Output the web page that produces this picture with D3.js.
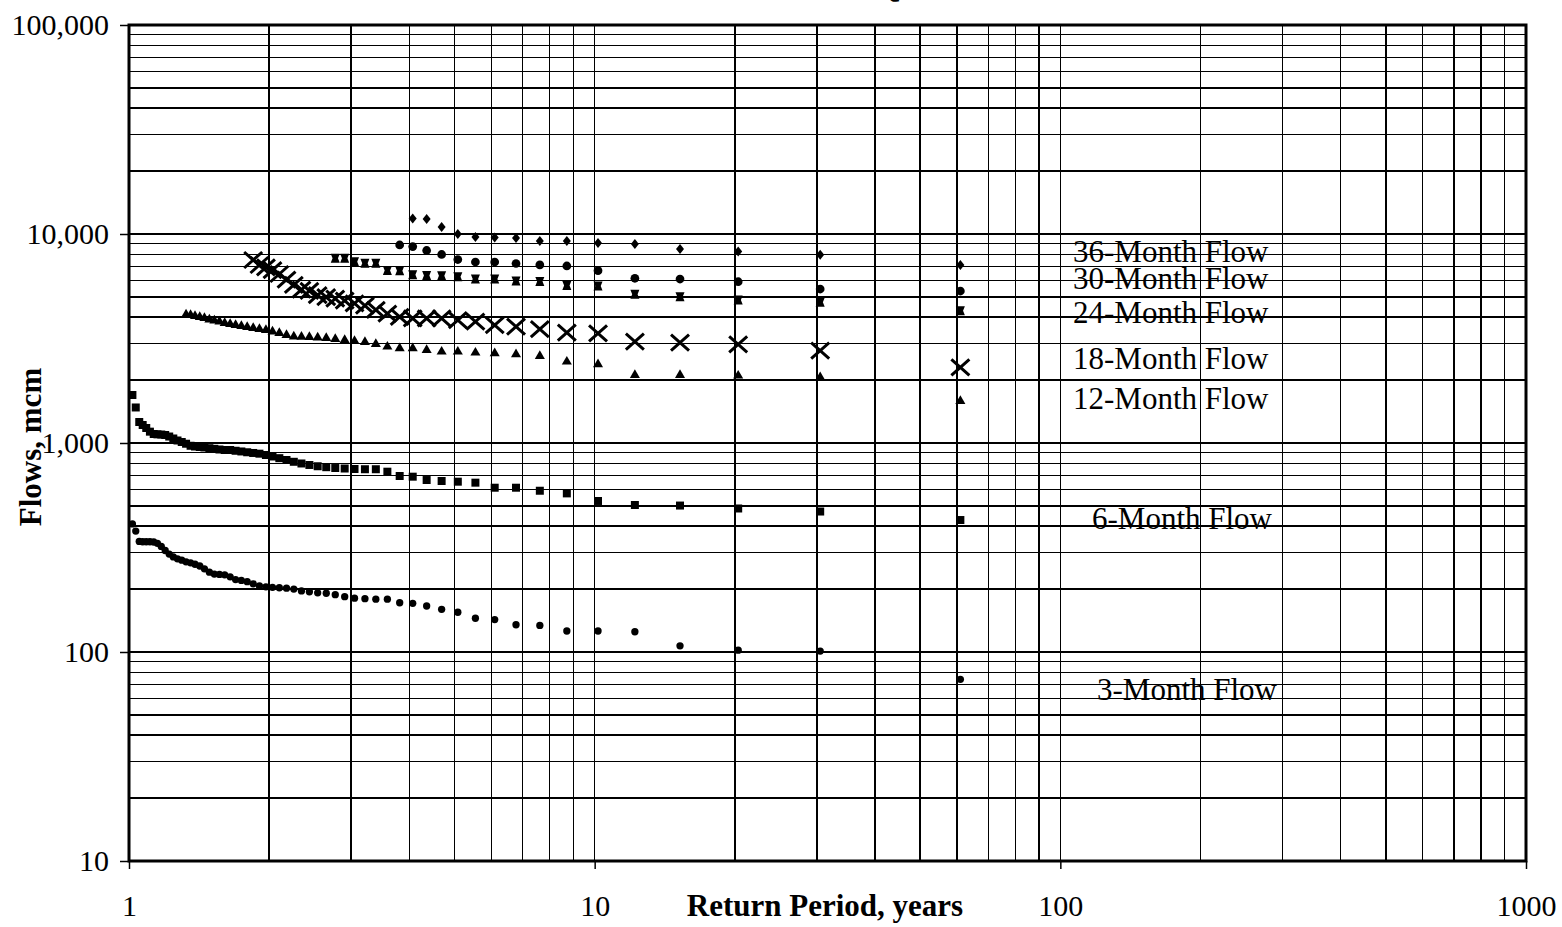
<!DOCTYPE html>
<html>
<head>
<meta charset="utf-8">
<script src="https://cdn.jsdelivr.net/npm/d3@7"></script>
<style>
  body { margin: 0; background: #fff; }
  svg { display: block; }
  text { font-family: "Liberation Serif", "Times New Roman", serif; fill: #000; }
</style>
</head>
<body>
<svg id="chart" width="1562" height="927"></svg>
<script>
// ---------- DATA ----------
// Return periods (years), ascending; each series uses the last N of these
const returnPeriods = [1.017, 1.034, 1.052, 1.070, 1.089, 1.109, 1.130, 1.151, 1.173, 1.196,
  1.220, 1.245, 1.271, 1.298, 1.326, 1.356, 1.386, 1.419, 1.452, 1.488,
  1.525, 1.564, 1.605, 1.649, 1.694, 1.743, 1.794, 1.848, 1.906, 1.968,
  2.033, 2.103, 2.179, 2.259, 2.346, 2.440, 2.542, 2.652, 2.773, 2.905,
  3.050, 3.211, 3.389, 3.588, 3.813, 4.067, 4.357, 4.692, 5.083, 5.545,
  6.100, 6.778, 7.625, 8.714, 10.167, 12.200, 15.250, 20.333, 30.500, 61.000];

const flow3 = [410, 379, 338, 337, 337, 337, 336, 331, 320, 306,
  294, 285, 279, 275, 270, 267, 263, 258, 250, 241,
  236, 235, 234, 229, 222, 220, 217, 212, 207, 205,
  204, 203, 202, 200, 196, 194, 192, 191, 188, 184,
  181, 180, 179, 179, 172, 171, 166, 160, 155, 145,
  143, 135, 134, 126, 126, 125, 107, 102, 101, 74];

const flow6 = [1697, 1479, 1260, 1219, 1180, 1133, 1104, 1100, 1098, 1092,
  1074, 1051, 1028, 1011, 992, 970, 962, 957, 952, 944,
  938, 931, 926, 926, 918, 911, 903, 896, 889, 876,
  862, 846, 829, 813, 798, 785, 774, 766, 759, 755,
  751, 749, 749, 729, 695, 690, 665, 658, 653, 646,
  611, 611, 591, 574, 528, 505, 502, 486, 470, 428];

const flow12 = [4118, 4096, 4052, 4008, 3964, 3899, 3856, 3813, 3751, 3710,
  3669, 3629, 3589, 3550, 3510, 3472, 3415, 3359, 3286, 3232,
  3225, 3214, 3196, 3179, 3144, 3110, 3076, 3042, 2976, 2889,
  2838, 2838, 2786, 2734, 2734, 2704, 2686, 2657, 2607, 2449,
  2379, 2115, 2115, 2099, 2062, 1589];

const flow18 = [7509, 7107, 6929, 6725, 6436, 6057, 5702, 5425, 5337, 5105,
  4995, 4913, 4796, 4661, 4548, 4330, 4164, 4008, 3951, 3951,
  3950, 3877, 3805, 3669, 3601, 3510, 3370, 3348, 3053, 3020,
  2967, 2764, 2303];

const flow24 = [7650, 7650, 7370, 7240, 7240, 6680, 6670, 6385, 6330, 6320,
  6245, 6090, 6090, 5960, 5925, 5670, 5640, 5145, 5010, 4830,
  4710, 4295];

const flow30 = [8860, 8710, 8340, 7980, 7550, 7345, 7345, 7225, 7110, 7030,
  6675, 6140, 6090, 5910, 5455, 5335];

const flow36 = [11850, 11800, 10800, 10000, 9680, 9620, 9570, 9260, 9260, 9050,
  8960, 8480, 8250, 7950, 7100];

const seriesNames = ["3-Month Flow", "6-Month Flow", "12-Month Flow", "18-Month Flow",
  "24-Month Flow", "30-Month Flow", "36-Month Flow"];
const seriesValues = [flow3, flow6, flow12, flow18, flow24, flow30, flow36];

const xTickValues = [1, 10, 100, 1000];
const yTickValues = [10, 100, 1000, 10000, 100000];
const xAxisTitle = "Return Period, years";
const yAxisTitle = "Flows, mcm";
const chartTitleFragment = "Q";

// ---------- LAYOUT / STYLE ----------
const plot = { left: 129, right: 1526, top: 25, bottom: 861 };
const markerKinds = ["circleSmall", "square", "triangle", "cross", "bowtie", "circle", "diamond"];
const labelPos = [
  { x: 1097, y: 700 }, { x: 1092, y: 529 }, { x: 1073, y: 409 }, { x: 1073, y: 369 },
  { x: 1073, y: 323 }, { x: 1073, y: 289 }, { x: 1073, y: 262 }
];

const svg = d3.select("#chart");
const x = d3.scaleLog().domain([1, 1000]).range([plot.left, plot.right]);
const y = d3.scaleLog().domain([10, 100000]).range([plot.bottom, plot.top]);

// Grid
const grid = svg.append("g").attr("stroke", "#000").attr("stroke-width", 1.4).attr("shape-rendering", "crispEdges");
grid.selectAll("line.v").data(x.ticks()).join("line")
  .attr("x1", d => x(d)).attr("x2", d => x(d))
  .attr("y1", plot.top).attr("y2", plot.bottom);
grid.selectAll("line.h").data(y.ticks()).join("line")
  .attr("x1", plot.left).attr("x2", plot.right)
  .attr("y1", d => y(d)).attr("y2", d => y(d));

// Plot border
svg.append("rect")
  .attr("x", plot.left).attr("y", plot.top)
  .attr("width", plot.right - plot.left).attr("height", plot.bottom - plot.top)
  .attr("fill", "none").attr("stroke", "#000").attr("stroke-width", 3);

// Axes
const yAxis = d3.axisLeft(y).tickValues(yTickValues).tickFormat(d3.format(",")).tickSize(9).tickSizeOuter(0);
const gy = svg.append("g").attr("transform", `translate(${plot.left},0)`).call(yAxis);
gy.select(".domain").remove();
gy.selectAll(".tick line").attr("stroke", "#000").attr("stroke-width", 1.5);
gy.selectAll(".tick text").attr("x", -20).attr("dy", null).attr("y", 9)
  .style("font-size", "30px").attr("font-family", null).attr("fill", "#000");

const xAxis = d3.axisBottom(x).tickValues(xTickValues).tickFormat(d3.format("d")).tickSize(8).tickSizeOuter(0);
const gx = svg.append("g").attr("transform", `translate(0,${plot.bottom})`).call(xAxis);
gx.select(".domain").remove();
gx.selectAll(".tick line").attr("stroke", "#000").attr("stroke-width", 1.5);
gx.selectAll(".tick text").attr("dy", null).attr("y", 55)
  .style("font-size", "30px").attr("font-family", null).attr("fill", "#000");

// Axis titles
svg.append("text").attr("x", 825).attr("y", 916).attr("text-anchor", "middle")
  .style("font-size", "31px").style("font-weight", "bold").text(xAxisTitle);
svg.append("text").attr("transform", "translate(41,447) rotate(-90)").attr("text-anchor", "middle")
  .style("font-size", "31px").style("font-weight", "bold").text(yAxisTitle);

// Title fragment, cut off at the top edge as in the reference
svg.append("text").attr("x", 888).attr("y", -3).attr("text-anchor", "middle")
  .style("font-size", "32px").style("font-weight", "bold").text(chartTitleFragment);

// Marker shapes
const markerPath = {
  circleSmall: d3.symbol(d3.symbolCircle, 42)(),
  square: d3.symbol(d3.symbolSquare, 64)(),
  triangle: d3.symbol(d3.symbolTriangle, 44)(),
  circle: d3.symbol(d3.symbolCircle, 60)(),
  diamond: "M0,-5L4,0L0,5L-4,0Z",
  bowtie: "M-4.5,-4.5H4.5L2.7,0L4.5,4.5H-4.5L-2.7,0Z",
  cross: "M-9,-8L9,8M-9,8L9,-8"
};

const marks = svg.append("g");
seriesValues.forEach((vals, i) => {
  const xs = returnPeriods.slice(returnPeriods.length - vals.length);
  const pts = vals.map((v, j) => ({ t: xs[j], v }));
  const kind = markerKinds[i];
  const g = marks.append("g");
  const p = g.selectAll("path").data(pts).join("path")
    .attr("transform", d => `translate(${x(d.t)},${y(d.v)})`)
    .attr("d", markerPath[kind]);
  if (kind === "cross") {
    p.attr("fill", "none").attr("stroke", "#000").attr("stroke-width", 3);
  } else {
    p.attr("fill", "#000").attr("stroke", "none");
  }
});

// Series labels
svg.append("g").selectAll("text").data(seriesNames).join("text")
  .attr("x", (d, i) => labelPos[i].x).attr("y", (d, i) => labelPos[i].y)
  .style("font-size", "31px").text(d => d);
</script>
</body>
</html>
